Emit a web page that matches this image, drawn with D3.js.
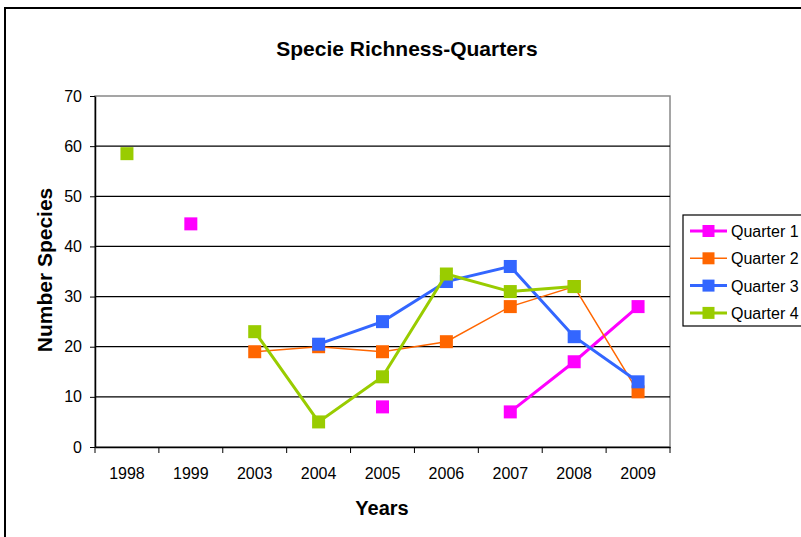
<!DOCTYPE html>
<html>
<head>
<meta charset="utf-8">
<script src="https://cdn.jsdelivr.net/npm/d3@7"></script>
<style>
    body { margin: 0; background: #fff; }
    svg { font-family: "Liberation Sans", Arial, sans-serif; }
</style>
</head>
<body>
<div id="chart"></div>
<script>
// Chart data
const years = ["1998", "1999", "2003", "2004", "2005", "2006", "2007", "2008", "2009"];
const quarter1 = [null, 44.5, null, null, 8, null, 7, 17, 28];
const quarter2 = [null, null, 19, 20, 19, 21, 28, 32, 11];
const quarter3 = [null, null, null, 20.5, 25, 33, 36, 22, 13];
const quarter4 = [58.5, null, 23, 5, 14, 34.5, 31, 32, null];
const seriesNames = ["Quarter 1", "Quarter 2", "Quarter 3", "Quarter 4"];
const yTicks = [0, 10, 20, 30, 40, 50, 60, 70];

const series = [
    { name: seriesNames[0], values: quarter1, color: "#FF00FF", width: 3 },
    { name: seriesNames[1], values: quarter2, color: "#FF6600", width: 1.5 },
    { name: seriesNames[2], values: quarter3, color: "#3366FF", width: 3 },
    { name: seriesNames[3], values: quarter4, color: "#99CC00", width: 3 }
];

const W = 801, H = 537;
const margin = { top: 96, right: 131, bottom: 90, left: 95 },
    width = W - margin.left - margin.right,
    height = H - margin.top - margin.bottom;

const root = d3.select("#chart")
    .append("svg")
    .attr("width", W)
    .attr("height", H);

// Outer chart frame (runs off the right and bottom edges)
root.append("rect")
    .attr("x", 5).attr("y", 8)
    .attr("width", W + 20).attr("height", H + 20)
    .attr("fill", "#fff")
    .attr("stroke", "#000")
    .attr("stroke-width", 2);

// Title
root.append("text")
    .attr("x", 407).attr("y", 56)
    .attr("text-anchor", "middle")
    .style("font-size", "21px")
    .style("font-weight", "bold")
    .text("Specie Richness-Quarters");

const svg = root.append("g")
    .attr("transform", `translate(${margin.left},${margin.top})`);

const x = d3.scaleBand()
    .domain(years)
    .range([0, width]);

const y = d3.scaleLinear()
    .domain([0, 70])
    .range([height, 0]);

// Plot area border (grey top/right)
svg.append("rect")
    .attr("x", 0).attr("y", 0)
    .attr("width", width).attr("height", height)
    .attr("fill", "none")
    .attr("stroke", "#888")
    .attr("stroke-width", 1.5);

// Gridlines
svg.append("g")
    .selectAll("line")
    .data(yTicks.filter(d => d > 0 && d < 70))
    .join("line")
    .attr("x1", 0).attr("x2", width)
    .attr("y1", d => y(d)).attr("y2", d => y(d))
    .attr("stroke", "#000")
    .attr("stroke-width", 1.2);

// X axis with ticks at band boundaries
const xAxis = svg.append("g")
    .attr("transform", `translate(0,${height})`)
    .call(d3.axisBottom(x).tickSize(0).tickPadding(21));
xAxis.select(".domain").attr("stroke", "#000").attr("stroke-width", 1.5);
xAxis.selectAll("text").style("font-size", "16px").attr("fill", "#000");
svg.append("g")
    .selectAll("line")
    .data(years.map(d => x(d)).concat([width]))
    .join("line")
    .attr("x1", d => d).attr("x2", d => d)
    .attr("y1", height).attr("y2", height + 6)
    .attr("stroke", "#000");

// Y axis
const yAxis = svg.append("g")
    .call(d3.axisLeft(y).tickValues(yTicks).tickSize(5).tickPadding(8).tickSizeOuter(0));
yAxis.select(".domain").attr("stroke", "#000").attr("stroke-width", 1.5);
yAxis.selectAll("text").style("font-size", "16px").attr("fill", "#000");

// Axis titles
root.append("text")
    .attr("x", 382).attr("y", 515)
    .attr("text-anchor", "middle")
    .style("font-size", "20px")
    .style("font-weight", "bold")
    .text("Years");

root.append("text")
    .attr("transform", "translate(52,270) rotate(-90)")
    .attr("text-anchor", "middle")
    .style("font-size", "21px")
    .style("font-weight", "bold")
    .text("Number Species");

// Lines and markers
const line = d3.line()
    .defined(d => d.v !== null)
    .x(d => x(d.year) + x.bandwidth() / 2)
    .y(d => y(d.v));

series.forEach(s => {
    const pts = years.map((year, i) => ({ year, v: s.values[i] }));
    svg.append("path")
        .datum(pts)
        .attr("fill", "none")
        .attr("stroke", s.color)
        .attr("stroke-width", s.width)
        .attr("d", line);
    svg.append("g")
        .selectAll("rect")
        .data(pts.filter(d => d.v !== null))
        .join("rect")
        .attr("x", d => x(d.year) + x.bandwidth() / 2 - 6.5)
        .attr("y", d => y(d.v) - 6.5)
        .attr("width", 13).attr("height", 13)
        .attr("fill", s.color);
});

// Legend
const legend = root.append("g").attr("transform", "translate(683,215)");
legend.append("rect")
    .attr("width", 140).attr("height", 111)
    .attr("fill", "#fff")
    .attr("stroke", "#000")
    .attr("stroke-width", 1.2);
series.forEach((s, i) => {
    const ly = 16 + i * 27.3;
    legend.append("line")
        .attr("x1", 7).attr("x2", 44)
        .attr("y1", ly).attr("y2", ly)
        .attr("stroke", s.color)
        .attr("stroke-width", s.width);
    legend.append("rect")
        .attr("x", 19.5).attr("y", ly - 6)
        .attr("width", 12).attr("height", 12)
        .attr("fill", s.color);
    legend.append("text")
        .attr("x", 48).attr("y", ly + 6)
        .style("font-size", "16px")
        .text(s.name);
});
</script>
</body>
</html>
